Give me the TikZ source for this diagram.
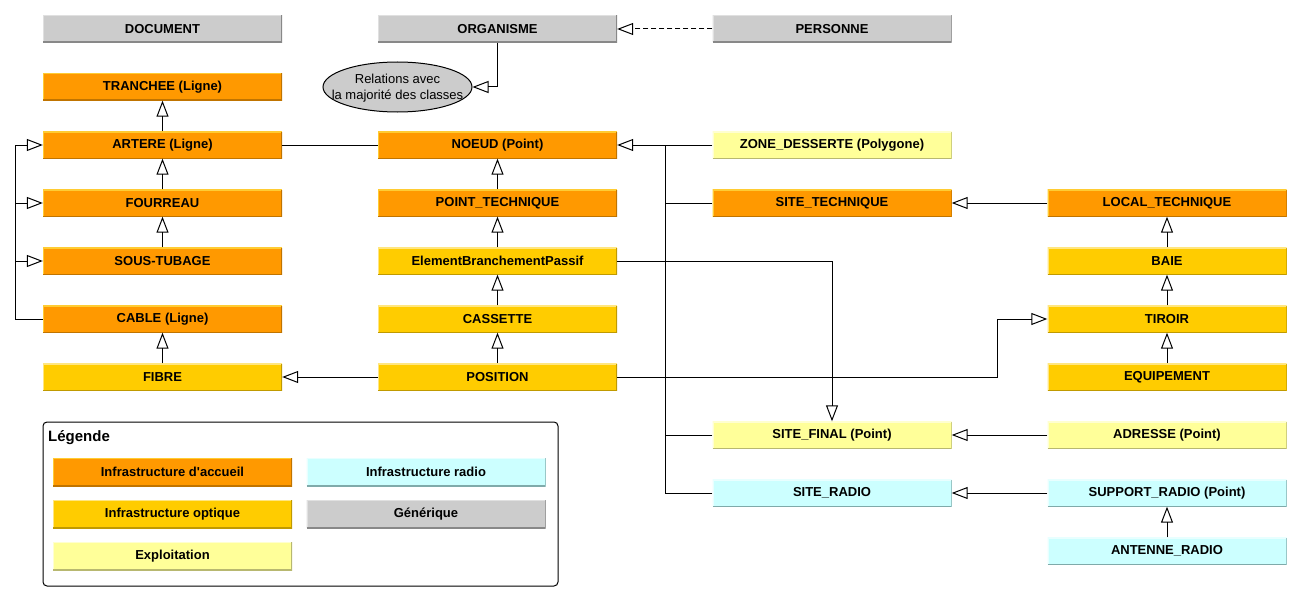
\documentclass[tikz,border=0pt]{standalone}
\usepackage{fontspec}
\setmainfont{Liberation Sans}
\usetikzlibrary{arrows.meta,shapes.geometric}
\definecolor{accF}{HTML}{FF9900}\definecolor{accL}{HTML}{FFCC33}\definecolor{accD}{HTML}{C07400}
\definecolor{optF}{HTML}{FFCC00}\definecolor{optL}{HTML}{FFE680}\definecolor{optD}{HTML}{C09A00}
\definecolor{expF}{HTML}{FFFF99}\definecolor{expL}{HTML}{FFFFD0}\definecolor{expD}{HTML}{B8B870}
\definecolor{radF}{HTML}{CCFFFF}\definecolor{radL}{HTML}{E8FFFF}\definecolor{radD}{HTML}{7FAAAA}
\definecolor{genF}{HTML}{CCCCCC}\definecolor{genL}{HTML}{E0E0E0}\definecolor{genD}{HTML}{888888}
\tikzset{
  cls/.style={minimum width=239pt, minimum height=27pt, inner sep=0pt, font=\bfseries\fontsize{13}{15}\selectfont},
  edged/.style 2 args={path picture={
    \draw[line width=2pt,#1] (path picture bounding box.south west) -- (path picture bounding box.north west) -- (path picture bounding box.north east);
    \draw[line width=2pt,#2] (path picture bounding box.north east) -- (path picture bounding box.south east) -- (path picture bounding box.south west);}},
  acc/.style={cls, fill=accF, edged={accL}{accD}},
  opt/.style={cls, fill=optF, edged={optL}{optD}},
  expl/.style={cls, fill=expF, edged={expL}{expD}},
  rad/.style={cls, fill=radF, edged={radL}{radD}},
  gen/.style={cls, fill=genF, edged={genL}{genD}},
  conn/.style={line width=1pt},
  inh/.style={conn, -{Triangle[open,length=16pt,width=12pt]}},
}
\begin{document}
\begin{tikzpicture}[x=1pt,y=-1pt]
\useasboundingbox (0,0) rectangle (1302,602);
% generic
\node[gen] (doc) at (162.5,29) {DOCUMENT};
\node[gen] (org) at (497.5,29) {ORGANISME};
\node[gen] (pers) at (832,29) {PERSONNE};
% column 1
\node[acc] (tran) at (162.5,87) {TRANCHEE (Ligne)};
\node[acc] (art) at (162.5,145) {ARTERE (Ligne)};
\node[acc] (four) at (162.5,203) {FOURREAU};
\node[acc] (sous) at (162.5,261) {SOUS-TUBAGE};
\node[acc] (cable) at (162.5,319) {CABLE (Ligne)};
\node[opt] (fibre) at (162.5,377) {FIBRE};
% ellipse
\node[ellipse, draw, line width=1pt, fill=genF, minimum width=149pt, minimum height=50pt, inner sep=0pt] (rel) at (397.5,87) {};
\node[align=center, inner sep=0pt, font=\fontsize{13}{16}\selectfont] (reltxt) at (397.5,88) {Relations avec\\la majorité des classes};
% column 2
\node[acc] (noeud) at (497.5,145) {NOEUD (Point)};
\node[acc] (pt) at (497.5,203) {POINT\_TECHNIQUE};
\node[opt] (ebp) at (497.5,261) {ElementBranchementPassif};
\node[opt] (cass) at (497.5,319) {CASSETTE};
\node[opt] (pos) at (497.5,377) {POSITION};
% column 3
\node[expl] (zone) at (832,145) {ZONE\_DESSERTE (Polygone)};
\node[acc] (site) at (832,203) {SITE\_TECHNIQUE};
\node[expl] (sfin) at (832,435) {SITE\_FINAL (Point)};
\node[rad] (srad) at (832,493) {SITE\_RADIO};
% column 4
\node[acc] (local) at (1167,203) {LOCAL\_TECHNIQUE};
\node[opt] (baie) at (1167,261) {BAIE};
\node[opt] (tiroir) at (1167,319) {TIROIR};
\node[opt] (equip) at (1167,377) {EQUIPEMENT};
\node[expl] (adr) at (1167,435) {ADRESSE (Point)};
\node[rad] (supp) at (1167,493) {SUPPORT\_RADIO (Point)};
\node[rad] (ant) at (1167,551) {ANTENNE\_RADIO};
% bus coordinates
\coordinate (lbtop) at (15,145);
\coordinate (lbbot) at (15,319);
\coordinate (rbtop) at (665,145);
\coordinate (rbbot) at (665,493);
\coordinate (pbend) at (997,377);
% connectors column 1
\draw[inh] (art.north) -- (tran.south);
\draw[inh] (four.north) -- (art.south);
\draw[inh] (sous.north) -- (four.south);
\draw[inh] (fibre.north) -- (cable.south);
\draw[conn] (cable.west) -- (lbbot) -- (lbtop);
\draw[inh] (lbtop) -- (art.west);
\draw[inh] (four.west -| lbtop) -- (four.west);
\draw[inh] (sous.west -| lbtop) -- (sous.west);
\draw[conn] (art.east) -- (noeud.west);
\draw[inh] (pos.west) -- (fibre.east);
% column 2
\draw[inh] (org.south) |- (rel.east);
\draw[inh, dash pattern=on 5pt off 3pt] (pers.west) -- (org.east);
\draw[inh] (pt.north) -- (noeud.south);
\draw[inh] (ebp.north) -- (pt.south);
\draw[inh] (cass.north) -- (ebp.south);
\draw[inh] (pos.north) -- (cass.south);
% right bus
\draw[inh] (zone.west) -- (noeud.east);
\draw[conn] (rbtop) -- (rbbot);
\draw[conn] (site.west) -- (site.west -| rbtop);
\draw[conn] (sfin.west) -- (sfin.west -| rbtop);
\draw[conn] (srad.west) -- (srad.west -| rbtop);
\draw[inh] (ebp.east) -| (sfin.north);
\draw[inh] (pos.east) -- (pbend) |- (tiroir.west);
% column 4
\draw[inh] (local.west) -- (site.east);
\draw[inh] (baie.north) -- (local.south);
\draw[inh] (tiroir.north) -- (baie.south);
\draw[inh] (equip.north) -- (tiroir.south);
\draw[inh] (adr.west) -- (sfin.east);
\draw[inh] (supp.west) -- (srad.east);
\draw[inh] (ant.north) -- (supp.south);
% legend
\node[draw, line width=1pt, rounded corners=4pt, minimum width=515pt, minimum height=164pt, inner sep=0pt] (leg) at (300.5,504) {};
\node[anchor=west, inner sep=0pt, font=\bfseries\fontsize{15}{17}\selectfont] (legt) at (48,438) {Légende};
\node[acc, minimum height=28pt] (l1) at (172.5,472) {Infrastructure d\textquotesingle accueil};
\node[opt, minimum height=28pt] (l2) at (172.5,514) {Infrastructure optique};
\node[expl, minimum height=28pt] (l3) at (172.5,556) {Exploitation};
\node[rad, minimum height=28pt] (l4) at (426,472) {Infrastructure radio};
\node[gen, minimum height=28pt] (l5) at (426,514) {Générique};
\end{tikzpicture}
\end{document}
